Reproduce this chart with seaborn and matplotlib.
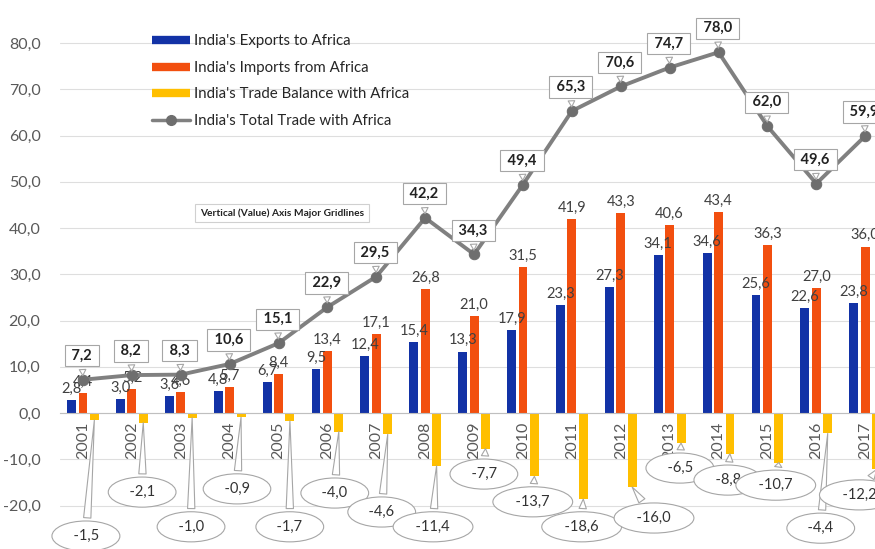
import numpy as np
import pandas as pd
import matplotlib.pyplot as plt
from matplotlib.lines import Line2D
from matplotlib.ticker import FuncFormatter
import seaborn as sns

# data (USD bn)
years = list(range(2001, 2018))
exports = [2.8, 3.0, 3.6, 4.8, 6.7, 9.5, 12.4, 15.4, 13.3, 17.9, 23.3, 27.3, 34.1, 34.6, 25.6, 22.6, 23.8]
imports = [4.4, 5.2, 4.6, 5.7, 8.4, 13.4, 17.1, 26.8, 21.0, 31.5, 41.9, 43.3, 40.6, 43.4, 36.3, 27.0, 36.0]
balance = [-1.5, -2.1, -1.0, -0.9, -1.7, -4.0, -4.6, -11.4, -7.7, -13.7, -18.6, -16.0, -6.5, -8.8, -10.7, -4.4, -12.2]
total = [7.2, 8.2, 8.3, 10.6, 15.1, 22.9, 29.5, 42.2, 34.3, 49.4, 65.3, 70.6, 74.7, 78.0, 62.0, 49.6, 59.9]

series = ["India's Exports to Africa", "India's Imports from Africa", "India's Trade Balance with Africa"]
line_name = "India's Total Trade with Africa"
colors = ['#1232a6', '#f24f0f', '#ffbf00']
line_color = '#808080'

# where the balance bubbles sit (x shift from category, y in data units)
bubble_pos = [(0.06, -26.6), (0.21, -17.1), (0.21, -24.6), (0.15, -16.4), (0.23, -24.6),
              (0.15, -17.3), (0.11, -21.4), (0.16, -24.6), (0.20, -13.2), (0.20, -19.2),
              (0.20, -24.6), (0.68, -22.7), (0.21, -11.9), (0.19, -14.5), (0.17, -15.6),
              (0.09, -24.9), (-0.12, -17.7)]

def fmt(v):
    return f"{v:.1f}".replace('.', ',')

df = pd.DataFrame({
    'year': years * 3,
    'series': [s for s in series for _ in years],
    'value': exports + imports + balance,
})

sns.set_theme(style="white")
plt.rcParams['font.family'] = ['Lato', 'DejaVu Sans']

fig = plt.figure(figsize=(8.75, 5.49), dpi=100)
ax = fig.add_axes([60 / 875, 0, 815 / 875, 1])

sns.barplot(data=df, x='year', y='value', hue='series', hue_order=series,
            palette=colors, width=0.7, gap=0.22, saturation=1, errorbar=None,
            linewidth=0, legend=False, ax=ax)

# value labels on exports / imports
for cont, vals in zip(ax.containers[:2], [exports, imports]):
    ax.bar_label(cont, labels=[fmt(v) for v in vals], padding=3,
                 fontsize=10.5, color='#404040')

# total trade line
x = np.arange(len(years))
sns.lineplot(x=x, y=total, color=line_color, lw=2.8, marker='o', markersize=7.5,
             markeredgecolor='#6e6e6e', markerfacecolor='#6e6e6e', ax=ax, zorder=5)

for i, v in enumerate(total):
    ax.annotate(f" {fmt(v)} ", xy=(i, v), xytext=(-1, 24), textcoords='offset pixels',
                ha='center', va='center', fontsize=10.5, fontweight='bold', color='#222222',
                bbox=dict(boxstyle='square,pad=0.25', fc='white', ec='#a6a6a6', lw=0.8),
                arrowprops=dict(arrowstyle='wedge,tail_width=0.45', fc='white',
                                ec='#a6a6a6', lw=0.8, shrinkB=3),
                annotation_clip=False, zorder=7)

# trade balance bubbles
for i, (v, (dx, y)) in enumerate(zip(balance, bubble_pos)):
    ax.annotate(f"  {fmt(v)}  ", xy=(i + 0.233, v), xytext=(i + dx, y),
                ha='center', va='center', fontsize=10.5, color='#333333',
                bbox=dict(boxstyle='ellipse,pad=0.25', fc='white', ec='#a6a6a6', lw=0.8),
                arrowprops=dict(arrowstyle='wedge,tail_width=0.5', fc='white',
                                ec='#a6a6a6', lw=0.8, shrinkB=0),
                annotation_clip=False, zorder=6)

# axes styling
ax.set_xlim(-0.47, 16.2)
ax.set_ylim(-29.4, 89.3)
ax.set_yticks(np.arange(-20, 81, 10))
ax.yaxis.set_major_formatter(FuncFormatter(lambda v, _: fmt(v)))
ax.grid(axis='y', color='#dedede', lw=0.8)
ax.set_axisbelow(True)
for s in ['left', 'right', 'top']:
    ax.spines[s].set_visible(False)
ax.spines['bottom'].set_position(('data', 0))
ax.spines['bottom'].set_color('#bfbfbf')
ax.spines['bottom'].set_linewidth(0.8)
ax.tick_params(axis='y', length=0, pad=14, labelsize=11.5, labelcolor='#595959')
ax.tick_params(axis='x', length=0, pad=6, labelsize=11.5, labelcolor='#595959', rotation=90)
ax.set_xlabel('')
ax.set_ylabel('')

handles = [Line2D([], [], color=c, lw=6, solid_capstyle='butt') for c in colors]
handles.append(Line2D([], [], color=line_color, lw=2.5, marker='o', markersize=7,
                      markerfacecolor='#6e6e6e', markeredgecolor='#6e6e6e'))
ax.legend(handles, series + [line_name], loc='upper left',
          bbox_to_anchor=(140 / 875, 1 - 22 / 549), bbox_transform=fig.transFigure,
          frameon=False, fontsize=10.8, handlelength=2.5, handletextpad=0.3,
          labelspacing=0.85, borderpad=0.3)

fig.text(282 / 875, 1 - 213 / 549, "Vertical (Value) Axis Major Gridlines",
         ha='center', va='center', fontsize=7.3, fontweight='bold', color='#222222',
         bbox=dict(boxstyle='square,pad=0.45', fc='white', ec='#d0d0d0', lw=0.8))

fig.savefig('out.png', dpi=100)
